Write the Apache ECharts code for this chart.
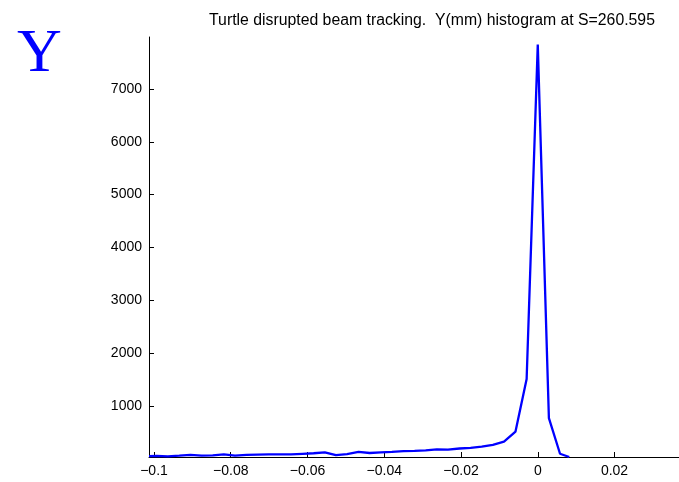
<!DOCTYPE html>
<html>
<head>
<meta charset="utf-8">
<script src="https://cdn.jsdelivr.net/npm/echarts@6/dist/echarts.min.js"></script>
<style>
  html, body { margin: 0; padding: 0; background: #fff; }
  #chart { width: 679px; height: 482px; }
</style>
</head>
<body>
<div id="chart"></div>
<script>
// Y position bin centres (mm) and histogram counts
const binCenters = [
  -0.1013, -0.0993, -0.0964, -0.0934, -0.0905, -0.0876, -0.0847, -0.0818,
  -0.0789, -0.0759, -0.0730, -0.0701, -0.0672, -0.0643, -0.0613, -0.0584,
  -0.0555, -0.0526, -0.0497, -0.0467, -0.0438, -0.0409, -0.0380, -0.0350,
  -0.0321, -0.0292, -0.0263, -0.0234, -0.0204, -0.0175, -0.0146, -0.0117,
  -0.0088, -0.0058, -0.0029, 0.0000, 0.0029, 0.0058, 0.0082
];
const counts = [
  50, 55, 45, 60, 75, 60, 65, 85,
  60, 75, 80, 85, 85, 85, 95, 105,
  120, 70, 90, 130, 110, 120, 130, 145,
  150, 160, 180, 175, 195, 205, 230, 265,
  325, 515, 1510, 7840, 770, 95, 34
];
const xTicks = [-0.1, -0.08, -0.06, -0.04, -0.02, 0, 0.02];
const yTicks = [1000, 2000, 3000, 4000, 5000, 6000, 7000];
const titleText = 'Turtle disrupted beam tracking.  Y(mm) histogram at S=260.595';

const chart = echarts.init(document.getElementById('chart'), null, { renderer: 'canvas' });

function fmtX(v) {
  const r = Math.round(v * 1000) / 1000;
  if (r === 0) return '0';
  const s = String(Math.abs(r));
  return (r < 0 ? '\u2212' : '') + s;
}

const font = '"Liberation Sans", Arial, sans-serif';

chart.setOption({
  animation: false,
  backgroundColor: '#ffffff',
  title: {
    text: titleText,
    left: 427,
    top: 8,
    textAlign: 'center',
    textStyle: { fontFamily: font, fontSize: 15.8, fontWeight: 'normal', color: '#000' }
  },
  graphic: [{
    type: 'text',
    left: 17,
    top: 24,
    style: {
      text: 'Y',
      font: '62px "Liberation Serif", "Times New Roman", serif',
      fill: '#0000ff'
    }
  }],
  grid: { left: 149, right: 0, top: 37, bottom: 25, containLabel: false },
  xAxis: {
    type: 'value',
    min: -0.1013,
    max: 0.0368,
    axisLine: { show: true, onZero: false, lineStyle: { color: '#000', width: 1 } },
    axisTick: { show: true, inside: true, length: 5, customValues: xTicks, lineStyle: { color: '#000' } },
    axisLabel: {
      customValues: xTicks,
      formatter: fmtX,
      color: '#000', fontFamily: font, fontSize: 14, margin: 7
    },
    splitLine: { show: false }
  },
  yAxis: {
    type: 'value',
    min: 34,
    max: 7983,
    axisLine: { show: true, onZero: false, lineStyle: { color: '#000', width: 1 } },
    axisTick: { show: true, inside: true, length: 5, customValues: yTicks, lineStyle: { color: '#000' } },
    axisLabel: {
      customValues: yTicks,
      formatter: (v) => String(v),
      color: '#000', fontFamily: font, fontSize: 14, margin: 7
    },
    splitLine: { show: false }
  },
  series: [{
    type: 'line',
    data: binCenters.map((x, i) => [x, counts[i]]),
    showSymbol: false,
    clip: true,
    lineStyle: { color: '#0000ff', width: 2.3 },
    itemStyle: { color: '#0000ff' }
  }]
});
</script>
</body>
</html>
